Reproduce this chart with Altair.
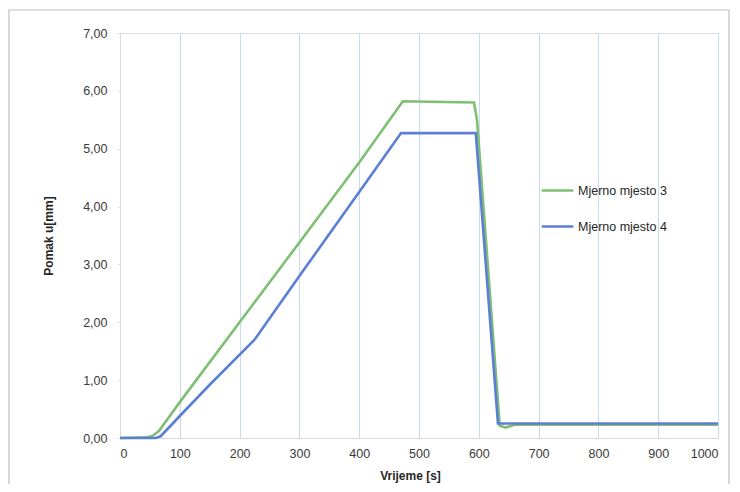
import altair as alt
import pandas as pd

series_names = ["Mjerno mjesto 3", "Mjerno mjesto 4"]

t3 = [0, 45, 55, 65, 100, 200, 300, 400, 473, 592, 597, 635, 645, 660, 1000]
u3 = [0, 0.01, 0.04, 0.12, 0.62, 2.0, 3.38, 4.76, 5.82, 5.80, 5.50, 0.21, 0.18, 0.23, 0.23]

t4 = [0, 60, 68, 100, 150, 225, 300, 400, 470, 595, 632, 1000]
u4 = [0, 0, 0.03, 0.38, 0.92, 1.70, 2.80, 4.25, 5.27, 5.27, 0.25, 0.25]

x_ticks = [0, 100, 200, 300, 400, 500, 600, 700, 800, 900, 1000]
y_ticks = [0, 1, 2, 3, 4, 5, 6, 7]

rows = []
for i, (t, u) in enumerate(zip(t3, u3)):
    rows.append({"t": t, "u": u, "s": series_names[0], "o": i})
for i, (t, u) in enumerate(zip(t4, u4)):
    rows.append({"t": t, "u": u, "s": series_names[1], "o": i})
df = pd.DataFrame(rows)

FONT = "Liberation Sans"

lines = alt.Chart(df).mark_line(strokeWidth=2.6).encode(
    x=alt.X("t:Q", scale=alt.Scale(domain=[0, 1000], nice=False),
            axis=alt.Axis(values=x_ticks, title="Vrijeme [s]", grid=True, format="d",
                          gridColor="#c6dcec", gridWidth=1, ticks=False,
                          domainColor="#d9d9d9", labelPadding=9,
                          labelFontSize=12.5, labelColor="#3a3a3a",
                          titleFontSize=12, titleFontWeight="bold",
                          titleColor="#262626", titlePadding=11, titleX=290)),
    y=alt.Y("u:Q", scale=alt.Scale(domain=[0, 7], nice=False),
            axis=alt.Axis(values=y_ticks, title="Pomak u[mm]", grid=False,
                          labelExpr="replace(format(datum.value, '.2f'), '.', ',')",
                          ticks=True, tickSize=3, tickColor="#e0e0e0",
                          domainColor="#d9d9d9", labelPadding=10,
                          labelFontSize=12.5, labelColor="#3a3a3a",
                          titleFontSize=12, titleFontWeight="bold",
                          titleColor="#262626", titlePadding=27)),
    color=alt.Color("s:N", scale=alt.Scale(domain=series_names,
                                             range=["#7fbf74", "#5c7fd6"]),
                    legend=alt.Legend(title=None, orient="none", legendX=420, legendY=140,
                                      symbolType="stroke", symbolSize=1000,
                                      symbolStrokeWidth=2.6, rowPadding=12,
                                      labelOffset=3,
                                      labelFontSize=12.5, labelColor="#262626",
                                      labelFont=FONT)),
    order="o:Q",
)

border = alt.Chart(pd.DataFrame({"a": [0]})).mark_rect(
    fill=None, stroke="#bfbfbf", strokeWidth=1.2
).encode(x=alt.value(-111), x2=alt.value(609), y=alt.value(-23), y2=alt.value(458))

chart = alt.layer(border, lines).properties(
    width=598, height=405,
    autosize=alt.AutoSizeParams(type="none"),
    padding={"left": 112, "top": 25, "right": 14, "bottom": 46},
).configure_view(stroke=None).configure(font=FONT, background="white")

chart.save("out.html", embed_options={"renderer": "svg", "actions": False})
